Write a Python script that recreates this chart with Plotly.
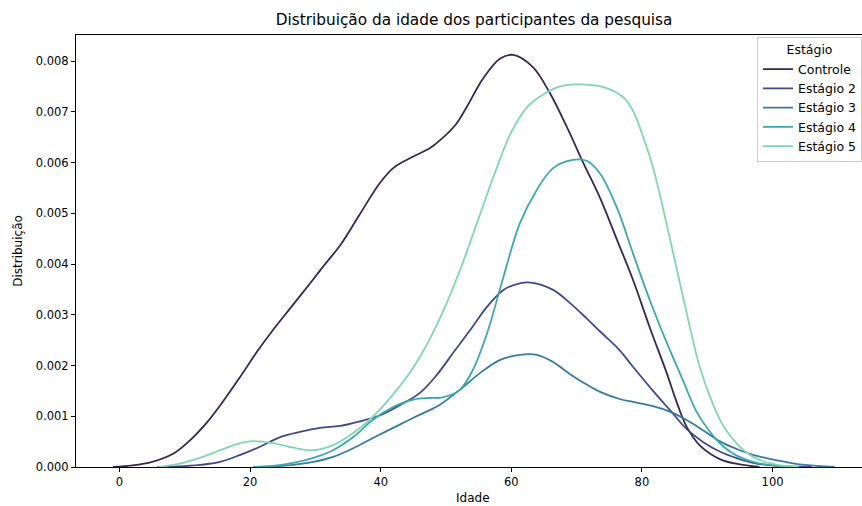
import plotly.graph_objects as go

# ---- data ----
controle_x = [-1, 2, 5, 8.2, 10.5, 13.4, 15.9, 18.5, 21, 23.5, 26.1, 29.2, 31.5, 33.8, 36.8, 39.9, 42, 45, 47.5, 49.1, 51.5, 53.2, 55.7, 58.3, 60.3, 63.3, 65.9, 68.5, 71, 73.6, 76.2, 78.6, 81.2, 83.8, 85.4, 86.9, 88.9, 92, 94.6, 98]
controle_y = [0.0, 0.00003, 0.0001, 0.00026, 0.00049, 0.00088, 0.0013, 0.00178, 0.00226, 0.0027, 0.00312, 0.00362, 0.004, 0.00437, 0.00498, 0.0056, 0.0059, 0.00612, 0.00628, 0.00644, 0.00675, 0.0071, 0.00766, 0.00805, 0.00812, 0.00788, 0.00737, 0.0067, 0.006, 0.0053, 0.00447, 0.0037, 0.00275, 0.00185, 0.00125, 0.00078, 0.00042, 0.00015, 0.00006, 0.0]

e2_x = [5.8, 9, 12.3, 15.4, 18.5, 21.5, 24.6, 27.6, 30.7, 33.8, 36.8, 39.9, 42.95, 46, 48.5, 51.1, 53.7, 56.3, 58.8, 61.3, 63.3, 66.4, 69, 71.6, 73.6, 76.6, 78.6, 81.7, 84.3, 86.9, 89.4, 92, 94.6, 97, 101, 106]
e2_y = [0.0, 0.00001, 0.00004, 0.0001, 0.00024, 0.0004, 0.00059, 0.00069, 0.00077, 0.00081, 0.0009, 0.00102, 0.00122, 0.00146, 0.0018, 0.00225, 0.0027, 0.00316, 0.00349, 0.00362, 0.00363, 0.00349, 0.00323, 0.00292, 0.00267, 0.0023, 0.00198, 0.0015, 0.00112, 0.00074, 0.00049, 0.0003, 0.00017, 0.00008, 0.00002, 0.0]

e3_x = [20.5, 23.5, 26.6, 29.7, 32.7, 35.8, 38.8, 41.9, 45, 47.5, 49, 52.1, 55.2, 58.3, 61.3, 63.9, 66.4, 69, 71.6, 73.6, 76.6, 79.2, 81.7, 84.3, 86.9, 89.4, 92, 94.6, 97, 99.2, 102, 105, 109.5]
e3_y = [0.0, 0.00001, 0.00004, 0.0001, 0.0002, 0.00037, 0.00057, 0.00077, 0.00097, 0.00112, 0.00122, 0.00152, 0.00185, 0.00211, 0.00221, 0.00221, 0.00207, 0.00183, 0.00162, 0.00148, 0.00134, 0.00127, 0.0012, 0.00109, 0.00092, 0.00072, 0.0005, 0.00035, 0.00024, 0.00017, 0.0001, 0.00004, 0.0]

e4_x = [20.5, 23.5, 26.6, 29.7, 32.7, 35.8, 38.8, 41.9, 45, 47.5, 49.5, 52.1, 54.1, 56.3, 58.8, 61.3, 63.9, 66.4, 69.4, 71.6, 73.6, 76.2, 78.6, 81.2, 83.8, 86.3, 88.4, 90.5, 92.5, 94.6, 97, 100, 103]
e4_y = [0.0, 0.00002, 0.00008, 0.00018, 0.00033, 0.00059, 0.00093, 0.00118, 0.00133, 0.00136, 0.00137, 0.00152, 0.00191, 0.00264, 0.00375, 0.0048, 0.00546, 0.00589, 0.00605, 0.00603, 0.00578, 0.0051, 0.00422, 0.00329, 0.00245, 0.0017, 0.00108, 0.00068, 0.0004, 0.00022, 0.0001, 0.00003, 0.0]

e5_x = [6, 9, 12.3, 15.4, 18.5, 20.5, 23.5, 26.6, 29.7, 32.7, 35.8, 38.8, 41.9, 45, 47.5, 50, 52.5, 55, 57.5, 60, 62.5, 65, 67.5, 70, 74, 77.1, 78.6, 80.2, 81.7, 83.8, 86.3, 88.9, 91, 92.5, 94.6, 97, 100, 104]
e5_y = [0.0, 0.00006, 0.00018, 0.00033, 0.00047, 0.00051, 0.00047, 0.00038, 0.00033, 0.00043, 0.00067, 0.00099, 0.00143, 0.00196, 0.00252, 0.0032, 0.004, 0.0049, 0.0058, 0.0066, 0.0071, 0.00735, 0.0075, 0.00754, 0.00749, 0.00729, 0.00703, 0.0065, 0.0059, 0.00478, 0.00335, 0.00195, 0.0012, 0.0008, 0.00045, 0.0002, 0.00006, 0.0]

series_names = ["Controle", "Estágio 2", "Estágio 3", "Estágio 4", "Estágio 5"]
series_x = [controle_x, e2_x, e3_x, e4_x, e5_x]
series_y = [controle_y, e2_y, e3_y, e4_y, e5_y]
colors = ["#36284f", "#40498d", "#357ba2", "#38aaac", "#7fd7b0"]

x_ticks = [0, 20, 40, 60, 80, 100]
y_ticks = [0.000, 0.001, 0.002, 0.003, 0.004, 0.005, 0.006, 0.007, 0.008]

FONT = "DejaVu Sans"

fig = go.Figure()
for name, xs, ys, c in zip(series_names, series_x, series_y, colors):
    fig.add_trace(go.Scatter(
        x=xs, y=ys, mode="lines", name=name,
        line=dict(color=c, width=1.8, shape="spline", smoothing=1.0, simplify=False),
    ))

fig.update_layout(
    width=862, height=506,
    margin=dict(l=76, r=0, t=35, b=39),
    paper_bgcolor="white", plot_bgcolor="white",
    font=dict(family=FONT, size=11.5, color="black"),
    title=dict(text="Distribuição da idade dos participantes da pesquisa",
               x=0.55, xref="container", xanchor="center",
               y=1 - 20 / 506, yref="container", yanchor="middle",
               font=dict(family=FONT, size=15.3, color="black")),
    legend=dict(
        title=dict(text="Estágio", side="top center", font=dict(size=12.5)),
        x=1.0, xanchor="right", y=0.995, yanchor="top",
        bgcolor="rgba(255,255,255,0.8)", bordercolor="#cccccc", borderwidth=1,
        font=dict(size=12.5), itemwidth=30, tracegroupgap=0,
    ),
    showlegend=True,
    annotations=[dict(text="Idade", xref="paper", yref="paper",
                      x=(473 - 76) / 786, y=(467 - 498) / 432,
                      xanchor="center", yanchor="middle", showarrow=False,
                      font=dict(family=FONT, size=12, color="black"))],
)

fig.update_xaxes(
    range=[-6.66, 113.7], tickvals=x_ticks, ticktext=[str(v) for v in x_ticks],
    showgrid=False, zeroline=False, showline=True, linecolor="black", linewidth=1,
    mirror=True, ticks="outside", ticklen=4, tickcolor="black", automargin=False,
)
fig.update_yaxes(
    range=[0, 0.0085125], tickvals=y_ticks, tickformat=".3f",
    showgrid=False, zeroline=False, showline=True, linecolor="black", linewidth=1,
    ticks="outside", ticklen=4, tickcolor="black", automargin=False,
    title=dict(text="Distribuição", standoff=10, font=dict(size=12)),
)

fig.write_html("out.html")
